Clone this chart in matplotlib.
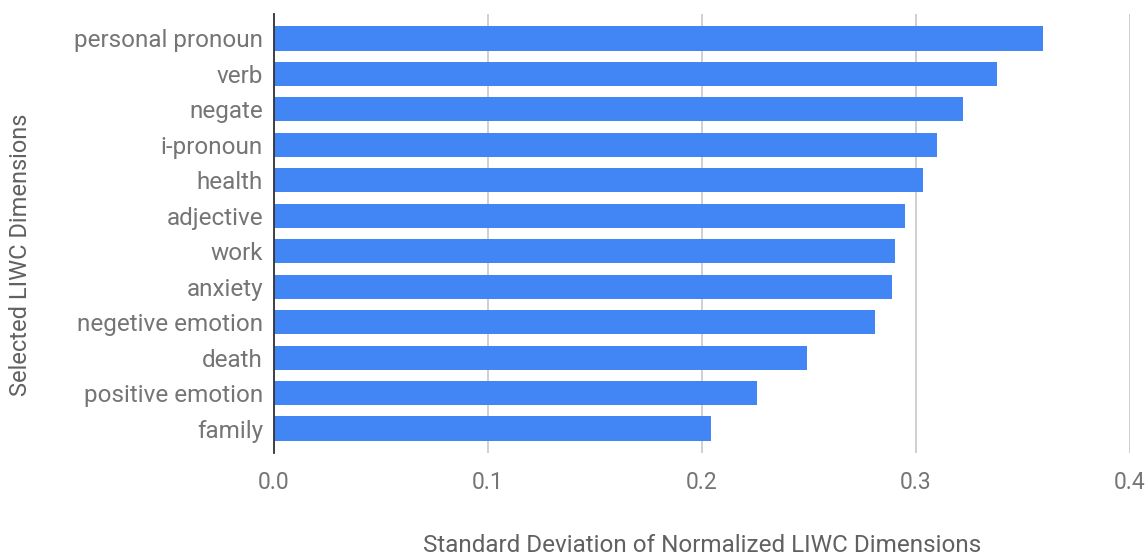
import matplotlib
matplotlib.use("Agg")
import matplotlib.pyplot as plt
import numpy as np

plt.rcParams["font.family"] = ["Roboto", "DejaVu Sans"]

categories = [
    "personal pronoun", "verb", "negate", "i-pronoun", "health", "adjective",
    "work", "anxiety", "negetive emotion", "death", "positive emotion", "family",
]
std_values = [
    0.3592, 0.3377, 0.3218, 0.3096, 0.3031, 0.2949,
    0.2900, 0.2890, 0.2807, 0.2489, 0.2255, 0.2041,
]
x_ticks = [0.0, 0.1, 0.2, 0.3, 0.4]

W, H = 1148, 557
fig = plt.figure(figsize=(W / 100, H / 100), dpi=100)
fig.patch.set_facecolor("white")
ax = fig.add_axes([274 / W, 1 - 453 / H, (1130 - 274) / W, (453 - 14) / H])

y = np.arange(len(categories))
ax.barh(y, std_values, height=0.68, color="#4285F4", zorder=3)

ax.set_xlim(0, 0.4)
ax.set_ylim(len(categories) - 1 + 0.69, -0.69)
ax.set_xticks(x_ticks)
ax.set_xticklabels([f"{t:.1f}" for t in x_ticks], fontsize=16.5, color="#757575")
ax.set_yticks(y)
ax.set_yticklabels(categories, fontsize=17.5, color="#757575")
ax.tick_params(axis="both", length=0)
ax.tick_params(axis="y", pad=8)
ax.tick_params(axis="x", pad=13)

ax.xaxis.grid(True, color="#cccccc", linewidth=1.3, zorder=0)
ax.set_axisbelow(True)
for spine in ("top", "right", "bottom"):
    ax.spines[spine].set_visible(False)
ax.spines["left"].set_color("#333333")
ax.spines["left"].set_linewidth(1.3)
ax.spines["left"].set_zorder(4)

ax.set_xlabel("Standard Deviation of Normalized LIWC Dimensions",
              fontsize=17.5, color="#616161")
ax.xaxis.label.set_va("center")
ax.xaxis.set_label_coords(0.5, (453 - 545) / 439)
ax.set_ylabel("Selected LIWC Dimensions", fontsize=17, color="#616161")
ax.yaxis.label.set_va("center")
ax.yaxis.set_label_coords((21 - 274) / 856, (453 - 255) / 439)

fig.savefig("out.png", dpi=100)
